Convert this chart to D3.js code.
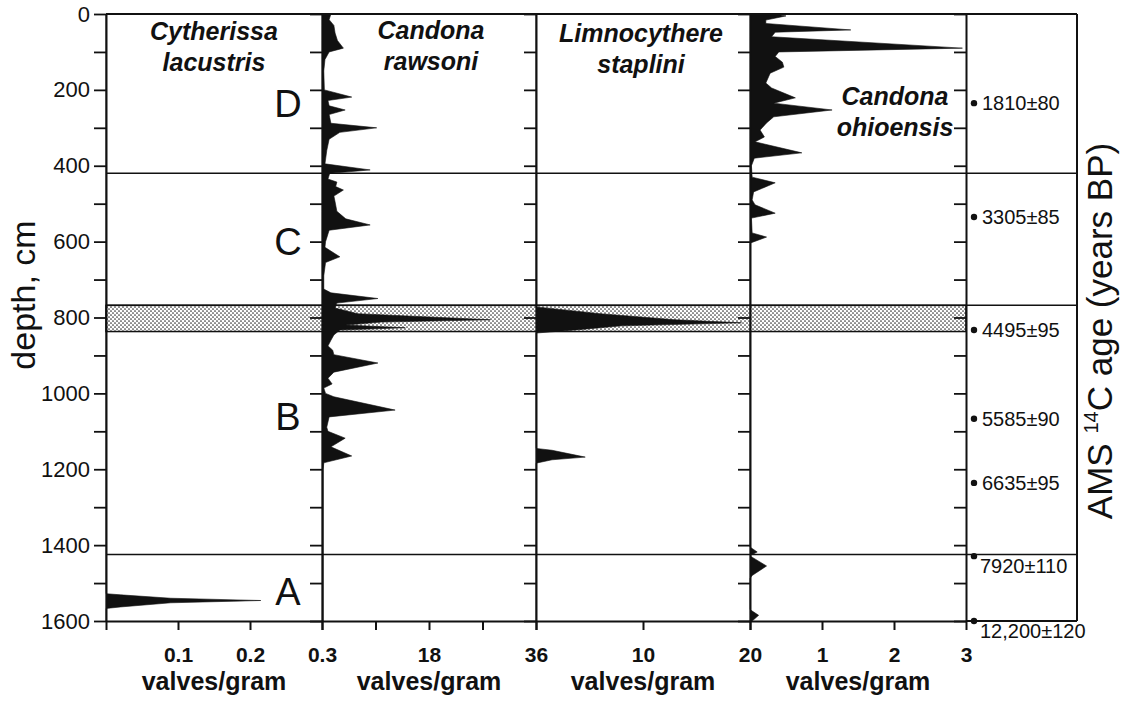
<!DOCTYPE html>
<html>
<head>
<meta charset="utf-8">
<script src="https://cdn.jsdelivr.net/npm/d3@7"></script>
<style>
  body { margin: 0; background: #fff; }
  svg { font-family: Arial, "Liberation Sans", sans-serif; }
</style>
</head>
<body>
<svg id="chart" width="1123" height="704"></svg>
<script>
// taxa, one column each
var species = [["Cytherissa", "lacustris"], ["Candona", "rawsoni"], ["Limnocythere", "staplini"], ["Candona", "ohioensis"]];

// [depth cm, valves/gram]
var cytherissa = [[0,0],[1528,0],[1531,0.02],[1540,0.09],[1546,0.215],[1552,0.09],[1563,0.02],[1567,0],[1600,0]];

var rawsoni = [[0,1.5],[15,1.2],[30,2.0],[50,2.2],[70,2.6],[90,3.6],[100,1.2],[120,0.5],[150,0.3],[200,0.4],
  [219,5.0],[228,1.0],[242,1.2],[253,3.9],[265,1.2],[288,1.5],[300,9.2],[312,3.0],[330,1.2],[360,0.8],
  [395,0.5],[411,8.1],[420,1.3],[435,1.0],[443,2.5],[455,2.3],[464,3.6],[480,2.0],[495,2.2],[520,2.5],
  [540,4.0],[556,8.1],[570,1.2],[600,0.6],[615,0.5],[640,3.0],[655,0.6],[690,0.3],[725,0.3],[735,1.5],
  [750,9.4],[762,2.5],[775,2.2],[790,6],[806,28.3],[812,10],[820,4],[827,14],[833,3],[846,2],
  [860,1.5],[875,1.0],[886,1.8],[898,2.0],[920,9.4],[944,2.0],[960,1.0],[975,1.7],[986,0.3],[1000,0.6],
  [1009,2.0],[1044,12.3],[1062,1.2],[1089,0.8],[1100,1.0],[1118,3.9],[1141,1.5],[1165,5.0],[1183,0.3],
  [1200,0.2],[1600,0.2]];

var staplini = [[0,0],[772,0],[790,6],[806,13],[814,19.2],[822,8],[832,4],[841,0],
  [1145,0],[1150,1.5],[1168,4.6],[1175,1.5],[1184,0],[1600,0]];

var ohioensis = [[0,0.35],[5,0.5],[16,0.22],[25,0.22],[42,1.4],[48,0.35],[60,0.3],[90,2.95],[100,0.4],
  [112,0.35],[127,0.45],[140,0.47],[156,0.28],[182,0.22],[195,0.3],[221,0.63],[235,0.33],[253,1.14],
  [271,0.33],[287,0.23],[306,0.14],[324,0.2],[337,0.07],[366,0.72],[380,0.06],[400,0.02],[430,0.03],
  [445,0.35],[469,0.05],[490,0.03],[503,0.07],[525,0.35],[538,0.02],[577,0.03],[588,0.23],[604,0],
  [1405,0],[1418,0.1],[1428,0],[1433,0.04],[1455,0.23],[1480,0.03],[1488,0],[1570,0],[1585,0.12],[1600,0.03]];

var series = [cytherissa, rawsoni, staplini, ohioensis];
var xMax = [0.3, 36, 20, 3];
var xTicks = [[0, 0.1, 0.2, 0.3], [0, 9, 18, 27, 36], [0, 10, 20], [0, 1, 2, 3]];
var xTickLabels = [["", "0.1", "0.2", "0.3"], ["", "", "18", "", "36"], ["", "10", "20"], ["", "1", "2", "3"]];

var depthTicks = d3.range(0, 1601, 100);
var zoneBreaks = [420, 1425];
var stippleBand = [768, 837];
var zoneNames = ["D", "C", "B", "A"];
var zoneLabelDepth = [235, 598, 1060, 1521];

var ageDepth = [235, 535, 833, 1067, 1236, 1429, 1600];
var ageLabel = ["1810\u00b180", "3305\u00b185", "4495\u00b195", "5585\u00b190", "6635\u00b195", "7920\u00b1110", "12,200\u00b1120"];

// layout
var edges = [106, 322, 536, 750, 966],
    ageRight = 1077,
    plotTop = 14,
    plotBottom = 621,
    ink = "#111";

var svg = d3.select("#chart");

var defs = svg.append("defs");
var pat = defs.append("pattern")
    .attr("id", "stipple")
    .attr("patternUnits", "userSpaceOnUse")
    .attr("width", 4)
    .attr("height", 4);
pat.append("rect").attr("width", 4).attr("height", 4).attr("fill", "#fff");
pat.append("circle").attr("cx", 1).attr("cy", 1).attr("r", 0.85).attr("fill", "#333");
pat.append("circle").attr("cx", 3).attr("cy", 3).attr("r", 0.85).attr("fill", "#333");

var y = d3.scaleLinear().domain([0, 1600]).range([plotTop, plotBottom]);

// stippled band
svg.append("rect")
    .attr("x", edges[0])
    .attr("y", y(stippleBand[0]))
    .attr("width", edges[4] - edges[0])
    .attr("height", y(stippleBand[1]) - y(stippleBand[0]))
    .attr("fill", "url(#stipple)")
    .attr("stroke", ink)
    .attr("stroke-width", 1.5);

// zone boundaries
zoneBreaks.concat([stippleBand[0]]).forEach(function(d) {
  svg.append("line")
      .attr("x1", edges[0]).attr("x2", ageRight)
      .attr("y1", y(d)).attr("y2", y(d))
      .attr("stroke", ink)
      .attr("stroke-width", 1.5);
});

// silhouettes
series.forEach(function(data, i) {
  var x = d3.scaleLinear().domain([0, xMax[i]]).range([edges[i], edges[i + 1]]);
  var area = d3.area()
      .y(function(d) { return y(d[0]); })
      .x0(x(0))
      .x1(function(d) { return x(d[1]); });

  svg.append("path")
      .datum(data)
      .attr("d", area)
      .attr("fill", ink)
      .attr("stroke", ink)
      .attr("stroke-width", 0.6);

  var g = svg.append("g")
      .attr("transform", "translate(0," + plotBottom + ")")
      .call(d3.axisBottom(x)
        .tickValues(xTicks[i])
        .tickFormat(function(d, j) { return xTickLabels[i][j]; })
        .tickSize(9)
        .tickSizeOuter(0)
        .tickPadding(17));
  g.select(".domain").attr("stroke", ink).attr("stroke-width", 2);
  g.selectAll(".tick line").attr("stroke", ink).attr("stroke-width", 2);
  g.selectAll(".tick text")
      .attr("fill", ink)
      .attr("font-size", 21)
      .attr("font-weight", "bold")
      .attr("font-family", "Arial, 'Liberation Sans', sans-serif");

  svg.append("text")
      .attr("x", (edges[i] + edges[i + 1]) / 2)
      .attr("y", 690)
      .attr("text-anchor", "middle")
      .attr("font-size", 25)
      .attr("font-weight", "bold")
      .attr("fill", ink)
      .text("valves/gram");
});

// species names
var namePos = [[214, 40], [431, 39], [641, 42], [895, 105]];
species.forEach(function(s, i) {
  var t = svg.append("text")
      .attr("text-anchor", "middle")
      .attr("font-size", 25)
      .attr("font-style", "italic")
      .attr("font-weight", "bold")
      .attr("fill", ink);
  t.append("tspan").attr("x", namePos[i][0]).attr("y", namePos[i][1]).text(s[0]);
  t.append("tspan").attr("x", namePos[i][0]).attr("y", namePos[i][1] + 31).text(s[1]);
});

// zone letters
zoneNames.forEach(function(z, i) {
  svg.append("text")
      .attr("x", 288)
      .attr("y", y(zoneLabelDepth[i]))
      .attr("dy", "0.36em")
      .attr("text-anchor", "middle")
      .attr("font-size", 38)
      .attr("fill", ink)
      .text(z);
});

// depth axes on every column edge
edges.forEach(function(ex, i) {
  var ax = d3.axisLeft(y)
      .tickValues(depthTicks)
      .tickSize(12)
      .tickSizeOuter(0)
      .tickPadding(4)
      .tickFormat(function(d) { return (i === 0 && d % 200 === 0) ? d : ""; });
  var g = svg.append("g")
      .attr("transform", "translate(" + ex + ",0)")
      .call(ax);
  g.select(".domain").attr("stroke", ink).attr("stroke-width", 2);
  g.selectAll(".tick line").attr("stroke", ink).attr("stroke-width", 1.8);
  g.selectAll(".tick text")
      .attr("fill", ink)
      .attr("font-size", 22)
      .attr("font-family", "Arial, 'Liberation Sans', sans-serif");
});

// frame
svg.append("line").attr("x1", edges[0]).attr("x2", ageRight).attr("y1", plotTop).attr("y2", plotTop)
    .attr("stroke", ink).attr("stroke-width", 2);
svg.append("line").attr("x1", edges[4]).attr("x2", ageRight).attr("y1", plotBottom).attr("y2", plotBottom)
    .attr("stroke", ink).attr("stroke-width", 2);
svg.append("line").attr("x1", ageRight).attr("x2", ageRight).attr("y1", plotTop).attr("y2", plotBottom)
    .attr("stroke", ink).attr("stroke-width", 2);

// radiocarbon ages
ageDepth.forEach(function(d, i) {
  svg.append("circle")
      .attr("cx", 974)
      .attr("cy", y(d))
      .attr("r", 3.2)
      .attr("fill", ink);
  var below = d > 1400;
  svg.append("text")
      .attr("x", below ? 980 : 982)
      .attr("y", y(d) + (below ? 17 : 7))
      .attr("font-size", 20)
      .attr("fill", ink)
      .text(ageLabel[i]);
});

// axis titles
svg.append("text")
    .attr("transform", "translate(35,295) rotate(-90)")
    .attr("text-anchor", "middle")
    .attr("font-size", 34)
    .attr("fill", ink)
    .text("depth, cm");

var amsT = svg.append("text")
    .attr("transform", "translate(1112,331) rotate(-90)")
    .attr("text-anchor", "middle")
    .attr("font-size", 35)
    .attr("fill", ink);
amsT.append("tspan").text("AMS ");
amsT.append("tspan").attr("font-size", 20).attr("dy", -14).text("14");
amsT.append("tspan").attr("dy", 14).text("C age (years BP)");
</script>
</body>
</html>
